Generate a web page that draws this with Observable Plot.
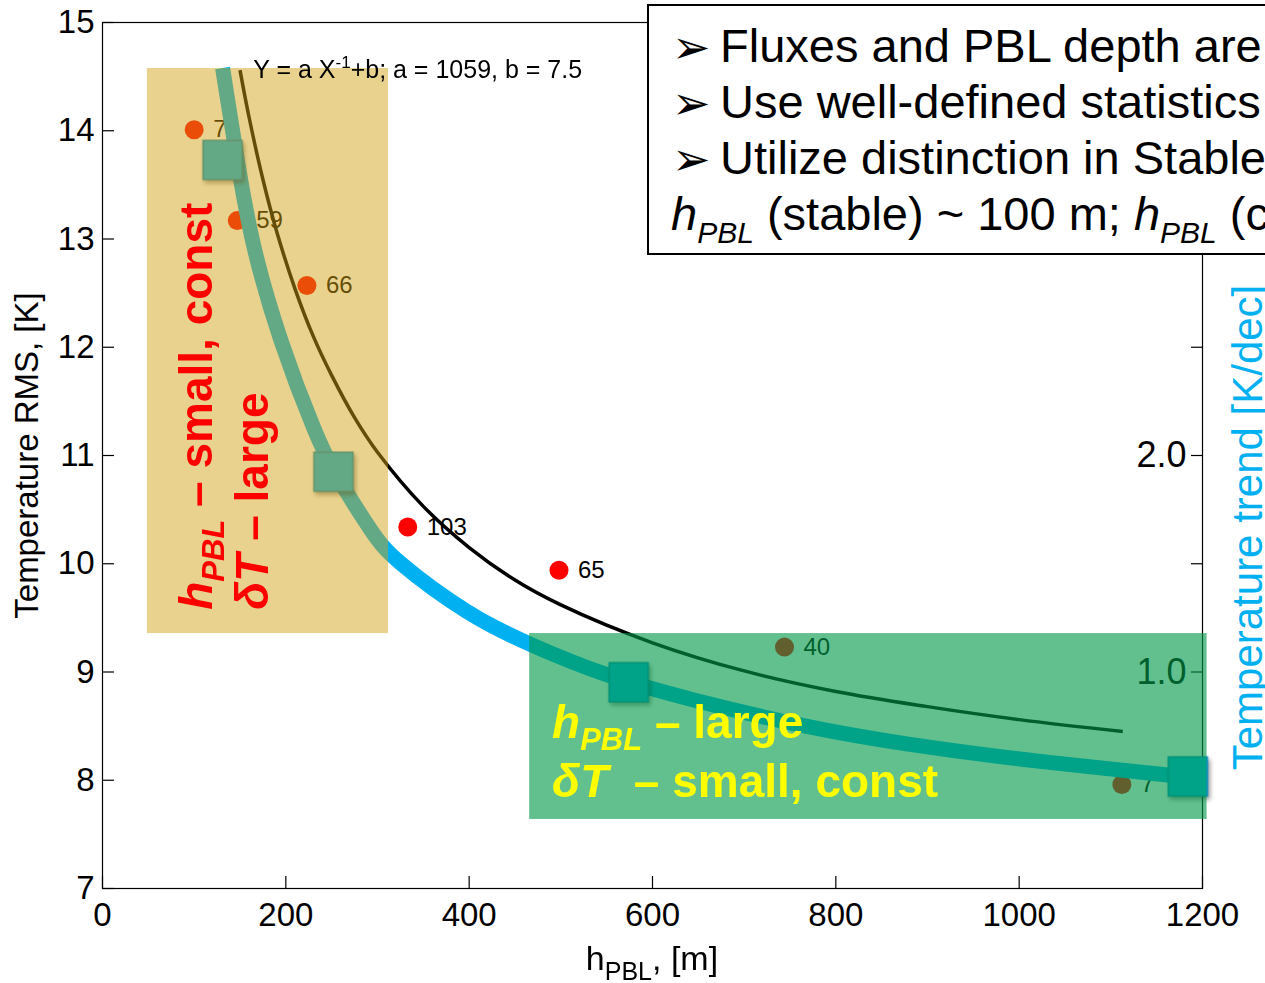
<!DOCTYPE html>
<html><head><meta charset="utf-8">
<script src="https://cdn.jsdelivr.net/npm/d3@7"></script>
<script src="https://cdn.jsdelivr.net/npm/@observablehq/plot@0.6"></script>
<style>
html,body{margin:0;padding:0;background:#fff;overflow:hidden;}
#wrap{position:relative;width:1265px;height:983px;overflow:hidden;font-family:"Liberation Sans",Arial,sans-serif;}
#note{position:absolute;left:647px;top:4px;width:800px;height:251px;box-sizing:border-box;border:2px solid #000;background:#fff;padding:12px 0 0 22px;font-size:47px;line-height:56px;white-space:nowrap;color:#000;font-family:"Liberation Sans",Arial,sans-serif;}
#note .arr{display:inline-block;width:49px;font-family:"DejaVu Sans",sans-serif;font-size:46px;line-height:0;position:relative;top:1px;left:1px;}
#note .sub{position:relative;top:13px;font-size:30px;font-style:italic;line-height:0;}
</style></head><body><div id="wrap"></div>
<script>
// ---- data ----
const hPBL     = [100, 147, 223, 333, 498, 744, 1112];          // m
const tempRMS  = [14.01, 13.17, 12.57, 10.34, 9.94, 9.23, 7.96]; // K
const nCount   = ["7", "59", "66", "103", "65", "40", "7"];

// fitted curve Y = a/X + b (a = 1059, b = 7.5), points along it
const fitX = [150, 160, 175, 190, 210, 230, 250, 275, 300, 350, 400, 450, 500, 600, 700, 800, 900, 1000, 1113];
const fitY = [14.56, 14.12, 13.55, 13.07, 12.54, 12.10, 11.74, 11.35, 11.03, 10.53, 10.15, 9.85, 9.62, 9.27, 9.01, 8.82, 8.68, 8.56, 8.45];

// temperature trend curve (K/dec, right axis)
const trendX   = [131, 147, 162.5, 193, 235, 252, 294.5, 314, 401.5, 467, 546.5, 638, 772, 870, 1000, 1162, 1200];
const trendVal = [3.79, 3.36, 2.98, 2.53, 2.07, 1.925, 1.64, 1.53, 1.255, 1.125, 0.985, 0.875, 0.74, 0.67, 0.595, 0.525, 0.505];

// trend markers (squares)
const sqX     = [131, 252, 574, 1184];
const sqTrend = [3.365, 1.925, 0.953, 0.517];

const xTicks = [0, 200, 400, 600, 800, 1000, 1200];
const yTicks = [7, 8, 9, 10, 11, 12, 13, 14, 15];
const trendTicks  = [0.5, 1.0, 1.5, 2.0, 2.5, 3.0, 3.5];
const trendLabels = [1.0, 2.0];

const stableBox = {x1: 49, x2: 312, y1: 9.355, y2: 14.575};
const convBox   = {x1: 466, x2: 1205, y1: 7.638, y2: 9.355};

// right axis (K/dec) mapped onto left axis (K)
const toLeft = t => 7 + 2 * t;

const points = hPBL.map((x, i) => ({x, y: tempRMS[i], n: nCount[i]}));
const fitPts = fitX.map((x, i) => ({x, y: fitY[i]}));
const bandPts = trendX.map((x, i) => ({x, y: toLeft(trendVal[i])}));
const sqPts = sqX.map((x, i) => ({x, y: toLeft(sqTrend[i])}));

const FONT = '"Liberation Sans", Arial, sans-serif';

const plot = Plot.plot({
  width: 1265, height: 983,
  marginLeft: 102, marginRight: 63, marginTop: 22, marginBottom: 95,
  x: {domain: [0, 1200]},
  y: {domain: [7, 15]},
  style: {fontFamily: FONT, fontSize: "33px", color: "#000", background: "#fff", overflow: "visible"},
  marks: [
    Plot.frame({stroke: "#000", strokeWidth: 1.2}),
    Plot.axisY(yTicks, {anchor: "left", tickSize: -12, fill: "none", label: null, strokeWidth: 1.2}),
    Plot.axisY(yTicks, {anchor: "left", tickSize: 0, tickPadding: 8, fontSize: 33, label: null, tickFormat: d => String(d)}),
    Plot.axisX(xTicks, {anchor: "bottom", tickSize: -12, fill: "none", label: null, strokeWidth: 1.2}),
    Plot.axisX(xTicks, {anchor: "bottom", tickSize: 0, tickPadding: 14, fontSize: 33, label: null, tickFormat: d => String(d)}),
    Plot.axisY(trendTicks.map(toLeft), {anchor: "right", tickSize: -12, fill: "none", label: null, strokeWidth: 1.2}),
    Plot.text(trendLabels, {y: d => toLeft(d), frameAnchor: "right", text: d => d.toFixed(1), textAnchor: "end", dx: -16, fontSize: 36}),
    Plot.dot(points, {x: "x", y: "y", r: 9.5, fill: "#ff0000"}),
    Plot.text(points, {x: "x", y: "y", text: "n", dx: 19, textAnchor: "start", fontSize: 24}),
    Plot.line(fitPts, {x: "x", y: "y", stroke: "#000", strokeWidth: 3.5, curve: "catmull-rom", strokeLinecap: "butt"}),
    Plot.line(bandPts, {x: "x", y: "y", stroke: "#00b0f0", strokeWidth: 15, curve: "basis", strokeLinecap: "butt"}),
    Plot.dot(sqPts, {x: "x", y: "y", symbol: "square", r: 22, fill: "#00b0f0", stroke: "#0088c0", strokeWidth: 1.5}),
    Plot.rect([stableBox], {x1: "x1", x2: "x2", y1: "y1", y2: "y2", fill: "rgb(208,160,16)", fillOpacity: 0.48}),
    Plot.rect([convBox], {x1: "x1", x2: "x2", y1: "y1", y2: "y2", fill: "rgb(0,153,73)", fillOpacity: 0.62}),
    Plot.text(["Temperature RMS, [K]"], {text: d => d, frameAnchor: "left", textAnchor: "middle", rotate: -90, lineAnchor: "bottom", dx: -65, fontSize: 33}),
    Plot.text(["Temperature trend [K/dec]"], {text: d => d, frameAnchor: "right", textAnchor: "middle", rotate: -90, lineAnchor: "bottom", dx: 59, dy: 72, fontSize: 42, fill: "#00b0f0"})
  ]
});

document.getElementById("wrap").appendChild(plot);

// shadow on the square markers
const dotGroups = plot.querySelectorAll('g[aria-label="dot"]');
if (dotGroups[1]) dotGroups[1].style.filter = "drop-shadow(2px 3px 2px rgba(0,0,0,0.4))";

// ---- rich-text annotations (subscripts / superscripts) ----
const sx = plot.scale("x"), sy = plot.scale("y");
const svg = d3.select(plot);

function richText(g, parts, attrs) {
  const t = g.append("text").attr("text-anchor", "start");
  for (const [k, v] of Object.entries(attrs)) t.attr(k, v);
  t.style("white-space", "pre");
  for (const p of parts) {
    const s = t.append("tspan").text(p.t);
    if (p.dy) s.attr("dy", p.dy);
    if (p.size) s.attr("font-size", p.size);
    if (p.italic) s.attr("font-style", "italic");
  }
  return t;
}

const ann = svg.append("g").attr("font-family", FONT).attr("text-anchor", "start");

// fit formula
richText(ann, [
  {t: "Y = a X"}, {t: "-1", size: 17, dy: -10}, {t: "+b; a = 1059, b = 7.5", dy: 10, size: 25}
], {x: sx.apply(165), y: sy.apply(14.48), "font-size": 25, fill: "#000"});

// x-axis label
richText(ann, [
  {t: "h"}, {t: "PBL", size: 25, dy: 10}, {t: ", [m]", dy: -10, size: 34}
], {x: sx.apply(600), y: sy.apply(7) + 82, "font-size": 34, "text-anchor": "middle", fill: "#000"});

// stable regime note (rotated, red)
const stableNote = {x: 120, y: 9.57};
const gS = ann.append("g")
  .attr("transform", `translate(${sx.apply(stableNote.x)},${sy.apply(stableNote.y)}) rotate(-90)`)
  .attr("font-weight", "bold").attr("font-size", 46).attr("fill", "#ff0000");
richText(gS, [{t: "h", italic: true}, {t: "PBL", italic: true, size: 31, dy: 12}, {t: " \u2013 small, const", dy: -12}], {x: 0, y: 0});
richText(gS, [{t: "\u03b4T", italic: true}, {t: " \u2013 large"}], {x: 0, y: 56});

// convective regime note (yellow)
const convNote = {x: 491, y: 8.39};
const gC = ann.append("g")
  .attr("transform", `translate(${sx.apply(convNote.x)},${sy.apply(convNote.y)})`)
  .attr("font-weight", "bold").attr("font-size", 46).attr("fill", "#ffff00");
richText(gC, [{t: "h", italic: true}, {t: "PBL", italic: true, size: 31, dy: 12}, {t: " \u2013 large", dy: -12}], {x: 0, y: 0});
richText(gC, [{t: "\u03b4T", italic: true}, {t: "\u00a0 \u2013 small, const"}], {x: 0, y: 59});

// ---- text box (top right) ----
const note = document.createElement("div");
note.id = "note";
note.innerHTML =
  '<div><span class="arr">\u27a2</span>Fluxes and PBL depth are</div>' +
  '<div><span class="arr">\u27a2</span>Use well-defined statistics</div>' +
  '<div><span class="arr">\u27a2</span>Utilize distinction in Stable</div>' +
  '<div><i>h</i><span class="sub">PBL</span> (stable) ~ 100 m; <i>h</i><span class="sub">PBL</span> (c</div>';
document.getElementById("wrap").appendChild(note);
</script>
</body></html>
